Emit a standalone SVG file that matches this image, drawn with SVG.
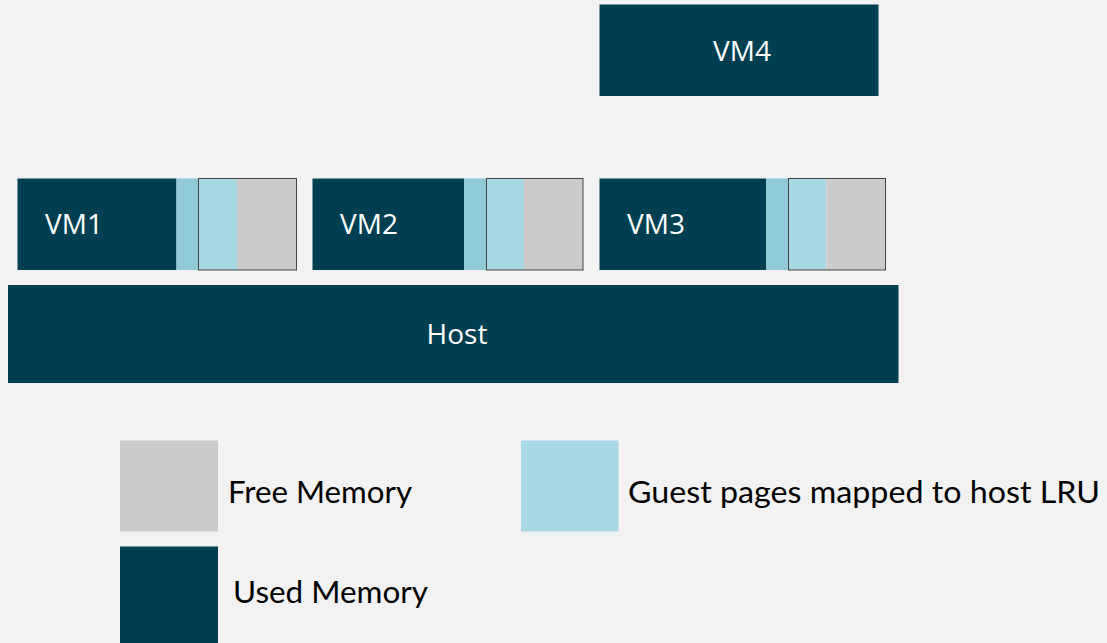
<svg xmlns="http://www.w3.org/2000/svg" width="1107" height="643" viewBox="0 0 1107 643">
<style>
.bg{fill:#f2f2f2}
.used{fill:#003f51}
.lru1{fill:#91cad7}
.lru2{fill:#a7d8e4}
.free{fill:#cbcbcb}
.edge{fill:none;stroke:#444;stroke-width:1}
.lbl{font-family:"Open Sans","Liberation Sans",sans-serif;font-size:28px;fill:#ffffff}
.leg{font-family:"Lato","Open Sans","Liberation Sans",sans-serif;font-size:31px;fill:#000000}
</style>
<rect class="bg" x="0" y="0" width="1107" height="643"/>
<g id="vm4">
<rect class="used" x="599.5" y="4.5" width="279" height="91.5"/>
<text class="lbl" x="742" y="61" text-anchor="middle">VM4</text>
</g>
<g id="vm1">
<rect class="used" x="17.5" y="178.5" width="159" height="91.5"/>
<rect class="lru1" x="176.5" y="178.5" width="22.5" height="91.5"/>
<rect class="lru2" x="199" y="178.5" width="38" height="91.5"/>
<rect class="free" x="237" y="178.5" width="59.5" height="91.5"/>
<rect class="edge" x="198.5" y="178.5" width="98" height="91.5"/>
<text class="lbl" x="45" y="234">VM1</text>
</g>
<g id="vm2">
<rect class="used" x="312.5" y="178.5" width="151.5" height="91.5"/>
<rect class="lru1" x="464" y="178.5" width="23" height="91.5"/>
<rect class="lru2" x="487" y="178.5" width="37" height="91.5"/>
<rect class="free" x="524" y="178.5" width="59" height="91.5"/>
<rect class="edge" x="486.5" y="178.5" width="96.5" height="91.5"/>
<text class="lbl" x="340" y="234">VM2</text>
</g>
<g id="vm3">
<rect class="used" x="599.5" y="178.5" width="166.5" height="91.5"/>
<rect class="lru1" x="766" y="178.5" width="22.5" height="91.5"/>
<rect class="lru2" x="788.5" y="178.5" width="38" height="91.5"/>
<rect class="free" x="826.5" y="178.5" width="59.5" height="91.5"/>
<rect class="edge" x="788.5" y="178.5" width="97" height="91.5"/>
<text class="lbl" x="627" y="234">VM3</text>
</g>
<g id="host">
<rect class="used" x="8" y="285" width="890.5" height="98"/>
<text class="lbl" x="457" y="344" text-anchor="middle">Host</text>
</g>
<g id="legend-free">
<rect class="free" x="120" y="440.5" width="98" height="91"/>
<text class="leg" x="228" y="503" textLength="184" lengthAdjust="spacingAndGlyphs">Free Memory</text>
</g>
<g id="legend-used">
<rect class="used" x="120" y="546.5" width="98" height="96.5"/>
<text class="leg" x="233" y="603" textLength="195" lengthAdjust="spacingAndGlyphs">Used Memory</text>
</g>
<g id="legend-lru">
<rect class="lru2" x="521" y="440.5" width="97.5" height="91"/>
<text class="leg" x="628" y="503" textLength="472" lengthAdjust="spacingAndGlyphs">Guest pages mapped to host LRU</text>
</g>
<g id="connectors"></g>
</svg>
